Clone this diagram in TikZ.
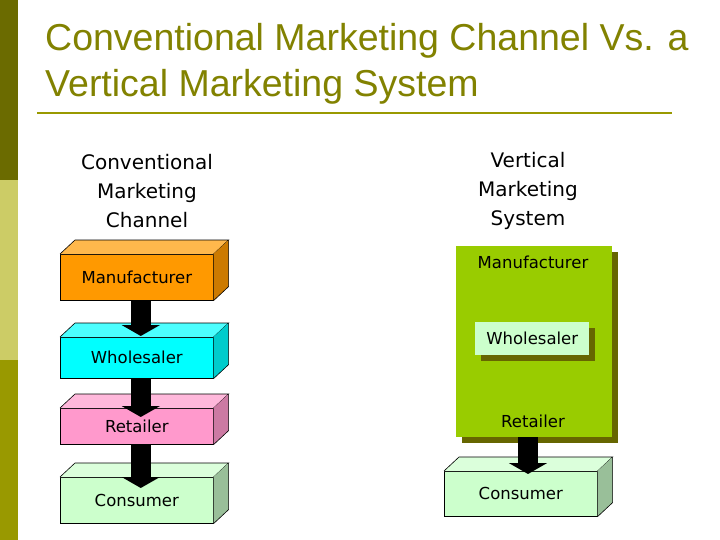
\documentclass[tikz,border=0pt]{standalone}
\usepackage{fontspec}
\setmainfont{Liberation Sans}
\newfontfamily\boxfont{DejaVu Sans}
\usetikzlibrary{arrows.meta}
\definecolor{olA}{HTML}{6B6B00}
\definecolor{olB}{HTML}{CCCC66}
\definecolor{olC}{HTML}{999900}
\definecolor{vgreen}{HTML}{99CC00}
\definecolor{vshadow}{HTML}{666600}
\definecolor{cmanu}{HTML}{FF9900}
\definecolor{cwhole}{HTML}{00FFFF}
\definecolor{cret}{HTML}{FF99CC}
\definecolor{ccons}{HTML}{CCFFCC}
\tikzset{
  lbl/.style={font=\boxfont\fontsize{16.5}{19}\selectfont},
  front/.style={lbl, draw=black, line width=0.6pt, minimum width=153pt, inner sep=0pt, anchor=north west},
  face/.style={draw=black, line width=0.6pt},
  bigarrow/.style={line width=20pt, -{Triangle[width=38pt,length=11pt]}},
  head/.style={align=center, font=\boxfont\fontsize{20}{29}\selectfont}
}
\newcommand{\threed}[3]{% node name, fill, depth colour
  \fill[#2!70!white] (#1.north west) -- ++(15pt,14pt) -- ([xshift=15pt,yshift=14pt]#1.north east) -- (#1.north east) -- cycle;
  \draw[face] (#1.north west) -- ++(15pt,14pt) -- ([xshift=15pt,yshift=14pt]#1.north east) -- (#1.north east);
  \fill[#3] (#1.north east) -- ++(15pt,14pt) -- ([xshift=15pt,yshift=14pt]#1.south east) -- (#1.south east) -- cycle;
  \draw[face] ([xshift=15pt,yshift=14pt]#1.north east) -- ([xshift=15pt,yshift=14pt]#1.south east) -- (#1.south east);
}
\begin{document}
\begin{tikzpicture}[x=1pt,y=-1pt]
\useasboundingbox (0,0) rectangle (720,540);
\fill[white] (0,0) rectangle (720,540);
\fill[olA] (0,0) rectangle (18,180);
\fill[olB] (0,180) rectangle (18,360);
\fill[olC] (0,360) rectangle (18,540);
\node[anchor=north west, align=left, font=\fontsize{37.5}{46}\selectfont, text=olC!85!black, inner sep=0pt] (title) at (45,23) {Conventional Marketing Channel Vs. a\\Vertical Marketing System};
\draw[olC, line width=2.5pt] (37,113) -- (672,113);

\node[head] (hl) at (147,191) {Conventional\\Marketing\\Channel};
\node[head] (hr) at (528,191) {Vertical\\Marketing\\System};

% left channel
\node[front, fill=cmanu, minimum height=46pt] (m) at (60,254) {Manufacturer};
\node[front, fill=cwhole, minimum height=41pt] (w) at (60,337) {Wholesaler};
\node[front, fill=cret, minimum height=36pt] (r) at (60,408) {Retailer};
\node[front, fill=ccons, minimum height=46pt] (c) at (60,477) {Consumer};
\threed{m}{cmanu}{cmanu!80!black}
\threed{w}{cwhole}{cwhole!80!black}
\threed{r}{cret}{cret!80!black}
\threed{c}{ccons}{ccons!75!black}
\draw[bigarrow] ([xshift=4pt]m.south) -- ([xshift=4pt,yshift=1pt]w.north);
\draw[bigarrow] ([xshift=4pt]w.south) -- ([xshift=4pt,yshift=-9pt]r.north);
\draw[bigarrow] ([xshift=4pt]r.south) -- ([xshift=4pt,yshift=-11pt]c.north);

% right: VMS
\fill[vshadow] (462,252) rectangle (618,443);
\node[anchor=north west, fill=vgreen, minimum width=156pt, minimum height=191pt, inner sep=0pt] (vms) at (456,246) {};
\node[lbl] (vm) at (533,262) {Manufacturer};
\fill[vshadow] (481,328) rectangle (595,361);
\node[lbl, anchor=north west, fill=ccons, minimum width=114pt, minimum height=33pt, inner sep=0pt] (vw) at (475,322) {Wholesaler};
\node[lbl] (vr) at (533,421) {Retailer};
\node[front, fill=ccons, minimum height=45pt] (vc) at (444,471) {Consumer};
\threed{vc}{ccons}{ccons!75!black}
\draw[bigarrow] (vms.south -| 528,0) -- ([yshift=-3pt]vc.north -| 528,0);
\end{tikzpicture}
\end{document}
